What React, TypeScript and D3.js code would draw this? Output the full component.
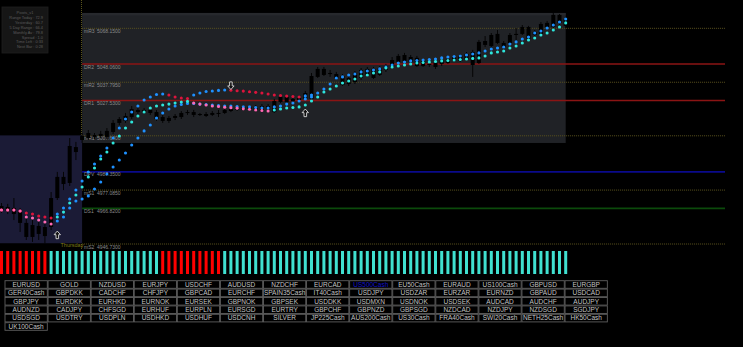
import React from "react";
import * as d3 from "d3";

const W = 743;
const H = 347;
const FONT = "Liberation Sans, Arial, sans-serif";

// ---- Price bars (one per M-bar, left to right) ----
const highs = [4969.8, 4969.3, 4972.6, 4967.0, 4961.4, 4960.2, 4959.1, 4959.1, 4976.0, 4987.3, 4987.3, 5006.4, 5004.2, 5009.2, 5010.9, 5009.2, 5010.4, 5012.0, 5016.5, 5018.2, 5020.5, 5024.4, 5023.9, 5023.3, 5023.3, 5022.2, 5019.4, 5018.8, 5019.9, 5021.6, 5022.2, 5022.2, 5020.5, 5021.0, 5021.6, 5022.2, 5023.3, 5023.9, 5024.4, 5025.0, 5025.0, 5025.0, 5025.5, 5025.5, 5028.4, 5030.6, 5030.6, 5029.5, 5030.1, 5032.9, 5043.0, 5046.4, 5046.4, 5044.7, 5043.6, 5042.4, 5041.3, 5044.1, 5045.8, 5046.4, 5046.4, 5046.9, 5048.1, 5052.0, 5053.7, 5054.3, 5053.1, 5052.6, 5050.9, 5049.2, 5049.8, 5051.5, 5052.0, 5053.1, 5053.7, 5054.8, 5056.0, 5061.6, 5063.8, 5065.5, 5067.2, 5061.0, 5065.5, 5068.3, 5070.0, 5069.5, 5067.2, 5071.7, 5072.3, 5076.8, 5076.2, 5074.5];
const opens = [4965.9, 4967.6, 4967.0, 4964.7, 4958.6, 4950.7, 4956.9, 4951.2, 4956.3, 4972.6, 4984.5, 4981.1, 5001.3, 5005.3, 5006.4, 5008.1, 5007.5, 5007.0, 5009.8, 5014.9, 5016.0, 5018.2, 5022.2, 5021.0, 5022.2, 5021.0, 5018.2, 5016.0, 5017.7, 5018.2, 5020.5, 5021.0, 5019.4, 5019.9, 5019.4, 5020.2, 5020.5, 5021.6, 5022.2, 5022.2, 5023.9, 5022.2, 5024.4, 5022.7, 5021.0, 5026.7, 5029.5, 5027.2, 5027.8, 5028.4, 5028.4, 5040.8, 5045.3, 5042.4, 5042.4, 5041.3, 5036.8, 5037.9, 5040.2, 5041.9, 5045.3, 5041.9, 5044.7, 5046.4, 5049.2, 5049.8, 5052.0, 5051.5, 5046.9, 5048.1, 5046.4, 5048.1, 5048.6, 5049.8, 5049.8, 5050.9, 5054.8, 5048.6, 5058.8, 5058.2, 5059.9, 5059.9, 5059.9, 5064.4, 5065.0, 5068.9, 5064.4, 5065.0, 5068.9, 5068.9, 5075.7, 5073.4];
const closes = [4968.1, 4965.3, 4963.6, 4958.6, 4950.7, 4957.4, 4952.4, 4956.3, 4972.6, 4984.5, 4980.5, 5001.9, 4998.5, 5007.5, 5009.2, 5007.0, 5008.7, 5010.4, 5014.9, 5017.1, 5018.8, 5022.7, 5021.0, 5022.2, 5020.5, 5017.1, 5016.0, 5017.7, 5018.8, 5020.5, 5021.0, 5019.4, 5019.9, 5018.8, 5020.5, 5020.5, 5022.2, 5022.7, 5023.3, 5023.9, 5022.7, 5023.9, 5021.6, 5024.4, 5027.2, 5029.5, 5026.7, 5028.4, 5028.9, 5031.7, 5041.3, 5045.3, 5041.9, 5043.0, 5040.2, 5036.2, 5040.2, 5043.0, 5044.7, 5045.3, 5040.2, 5045.8, 5046.9, 5050.3, 5052.6, 5053.1, 5049.2, 5046.9, 5049.8, 5047.5, 5048.6, 5050.3, 5050.9, 5052.0, 5052.6, 5053.7, 5047.5, 5060.5, 5061.0, 5064.4, 5065.0, 5057.6, 5064.4, 5065.0, 5068.9, 5062.1, 5066.1, 5070.6, 5071.2, 5075.7, 5071.2, 5069.5];
const lows = [4964.2, 4963.6, 4960.2, 4953.5, 4949.0, 4947.9, 4949.0, 4947.2, 4954.6, 4971.5, 4977.1, 4979.4, 4994.0, 5003.6, 5005.3, 5005.8, 5006.4, 5005.8, 5008.7, 5013.7, 5014.9, 5017.1, 5019.9, 5019.9, 5019.4, 5016.0, 5014.9, 5014.9, 5016.5, 5017.1, 5019.4, 5018.2, 5018.8, 5018.2, 5018.8, 5018.2, 5019.9, 5021.0, 5021.6, 5021.6, 5022.2, 5021.0, 5021.0, 5021.6, 5020.5, 5026.1, 5025.5, 5026.1, 5027.2, 5027.8, 5027.8, 5040.2, 5041.3, 5040.8, 5039.1, 5035.7, 5035.7, 5036.8, 5039.1, 5040.8, 5039.6, 5041.3, 5043.6, 5045.8, 5048.1, 5048.6, 5048.1, 5046.4, 5046.4, 5046.4, 5045.3, 5046.9, 5048.1, 5049.2, 5049.2, 5050.3, 5040.8, 5048.1, 5057.6, 5057.1, 5059.3, 5056.5, 5058.8, 5060.5, 5064.4, 5061.6, 5063.3, 5064.4, 5068.3, 5068.3, 5070.0, 5068.3];

// ---- Indicator lines (dots) ----
const fastLine = [4965.9, 4965.9, 4965.9, 4965.3, 4964.2, 4963.6, 4962.5, 4961.9, 4961.4, 4963.6, 4967.0, 4972.1, 4977.1, 4982.2, 4987.3, 4991.8, 4996.3, 5000.8, 5006.4, 5012.0, 5017.1, 5021.0, 5024.4, 5027.8, 5029.5, 5030.9, 5031.2, 5030.6, 5029.5, 5028.9, 5028.6, 5030.6, 5031.7, 5032.6, 5032.9, 5033.2, 5033.4, 5033.3, 5033.0, 5032.8, 5032.4, 5032.1, 5031.7, 5031.2, 5030.6, 5030.3, 5030.0, 5029.8, 5029.5, 5030.1, 5030.6, 5031.7, 5034.0, 5036.8, 5040.2, 5040.8, 5041.9, 5042.4, 5043.6, 5044.1, 5044.7, 5045.3, 5046.4, 5047.5, 5048.6, 5049.2, 5049.8, 5050.0, 5050.3, 5050.6, 5050.9, 5051.5, 5052.0, 5052.3, 5052.6, 5053.1, 5053.7, 5054.3, 5055.4, 5056.5, 5057.1, 5057.6, 5059.3, 5060.5, 5062.1, 5063.3, 5065.5, 5066.6, 5068.3, 5070.0, 5071.7, 5073.4];
const signalLine = [4965.9, 4965.9, 4965.9, 4965.3, 4961.9, 4961.4, 4960.2, 4959.1, 4958.0, 4961.9, 4964.7, 4969.8, 4974.3, 4978.8, 4984.5, 4989.5, 4994.6, 4998.5, 5003.6, 5007.5, 5012.0, 5015.4, 5018.8, 5021.0, 5023.3, 5024.4, 5025.0, 5025.5, 5026.1, 5026.7, 5027.0, 5026.1, 5025.5, 5025.0, 5024.4, 5024.1, 5023.7, 5023.5, 5023.2, 5022.8, 5022.6, 5022.2, 5021.9, 5021.6, 5022.2, 5022.7, 5023.3, 5023.6, 5023.9, 5025.0, 5027.2, 5029.5, 5032.3, 5034.0, 5035.7, 5037.4, 5038.5, 5039.6, 5041.3, 5041.9, 5043.0, 5043.6, 5045.8, 5046.4, 5046.9, 5047.5, 5048.1, 5048.6, 5048.9, 5049.2, 5049.5, 5049.8, 5050.0, 5050.3, 5050.6, 5050.9, 5051.2, 5051.5, 5052.6, 5054.3, 5054.8, 5055.4, 5057.1, 5058.2, 5059.9, 5061.6, 5062.7, 5064.4, 5065.5, 5067.2, 5068.9, 5071.2];
const slowLine: (number | null)[] = [null, null, null, null, null, null, null, null, null, 4959.7, 4961.9, 4967.0, 4970.9, 4972.1, 4973.8, 4977.7, 4981.6, 4986.1, 4990.1, 4994.0, 4998.0, 5002.5, 5006.4, 5010.4, 5013.7, 5017.7, 5020.5, 5022.7, 5024.4, 5025.3, 5025.8, 5025.8, 5025.5, 5025.3, 5025.0, 5024.7, 5024.4, 5024.4, 5024.1, 5023.9, 5023.9, 5023.6, 5023.3, 5023.3, 5023.9, 5024.4, 5025.5, 5026.1, 5027.2, 5028.4, 5029.5, null, null, null, null, null, null, null, null, null, null, null, null, null, null, null, null, null, null, null, null, null, null, null, null, null, null, null, null, null, null, null, null, null, null, null, null, null, null, null, null, null];

// ---- Trend histogram state per bar (1 up, -1 down) ----
const trendState = [-1, -1, -1, -1, -1, -1, -1, -1, 1, 1, 1, 1, 1, 1, 1, 1, 1, 1, 1, 1, 1, 1, 1, 1, 1, 1, -1, -1, -1, -1, -1, -1, -1, -1, -1, -1, 1, 1, 1, 1, 1, 1, 1, 1, 1, 1, 1, 1, 1, 1, 1, 1, 1, 1, 1, 1, 1, 1, 1, 1, 1, 1, 1, 1, 1, 1, 1, 1, 1, 1, 1, 1, 1, 1, 1, 1, 1, 1, 1, 1, 1, 1, 1, 1, 1, 1, 1, 1, 1, 1, 1, 1];

// ---- Pivot levels ----
const levelNames = ["mR3", "DR2", "mR2", "DR1", "mR1", "DPV", "mS1", "DS1", "mS2"];
const levelValues = [5068.15, 5048.06, 5037.795, 5027.53, 5007.64, 4987.35, 4977.085, 4966.82, 4946.73];
const levelKinds = ["mid", "R", "mid", "R", "mid", "P", "mid", "S", "mid"];

const yesterdayHigh = 5007.88;
const yesterdayLow = 4947.17;
const todayStartBar = 13;
const dayLabel = "Thursday";

const upArrowBars = [9, 49];
const upArrowPrices = [4954.0, 5022.7];
const downArrowBars = [37];
const downArrowPrices = [5033.7];

const infoLines = ["Pivots_v1", "Range Today : 72.9", "Yesterday : 60.7", "5 Day Range : 66.4", "Monthly Av : 79.8", "Spread : 1.0", "Time Left : 0:33", "Next Bar : 0:28"];

const symbolRow1 = ["EURUSD", "GOLD", "NZDUSD", "EURJPY", "USDCHF", "AUDUSD", "NZDCHF", "EURCAD", "US500Cash", "EU50Cash", "EURAUD", "US100Cash", "GBPUSD", "EURGBP"];
const symbolRow2 = ["GER40Cash", "GBPDKK", "CADCHF", "CHFJPY", "GBPCAD", "EURCHF", "SPAIN35Cash", "IT40Cash", "USDJPY", "USDZAR", "EURZAR", "EURNZD", "GBPAUD", "USDCAD"];
const symbolRow3 = ["GBPJPY", "EURDKK", "EURHKD", "EURNOK", "EURSEK", "GBPNOK", "GBPSEK", "USDDKK", "USDMXN", "USDNOK", "USDSEK", "AUDCAD", "AUDCHF", "AUDJPY"];
const symbolRow4 = ["AUDNZD", "CADJPY", "CHFSGD", "EURHUF", "EURPLN", "EURSGD", "EURTRY", "GBPCHF", "GBPNZD", "GBPSGD", "NZDCAD", "NZDJPY", "NZDSGD", "SGDJPY"];
const symbolRow5 = ["USDSGD", "USDTRY", "USDPLN", "USDHKD", "USDHUF", "USDCNH", "SILVER", "JP225Cash", "AUS200Cash", "US30Cash", "FRA40Cash", "SWI20Cash", "NETH25Cash", "HK50Cash"];
const symbolRow6 = ["UK100Cash"];
const activeSymbol = "US500Cash";

const BLUE = "#1e90ff";
const RED = "#dc143c";
const CYAN = "#2ee6dc";
const PINK = "#ff69b4";

export default function App() {
  const n = highs.length;
  const x = d3.scaleLinear().domain([0, n - 1]).range([1.5, 565.7]);
  const y = d3.scaleLinear().domain([4946.73, 5048.06]).range([244, 64]);

  const todayIdx = d3.range(todayStartBar, n);
  const todayHigh = d3.max(todayIdx, (i) => highs[i]) as number;
  const todayLow = d3.min(todayIdx, (i) => lows[i]) as number;

  const sepX = x(todayStartBar);
  const lineEnd = 725;

  const levelStyle = (k: string) => {
    if (k === "R") return { stroke: "#8b1414", width: 1.5, dash: undefined };
    if (k === "P") return { stroke: "#0a0a8c", width: 1.8, dash: undefined };
    if (k === "S") return { stroke: "#0b4a0b", width: 1.7, dash: undefined };
    return { stroke: "#5a521e", width: 1, dash: "1,1" };
  };

  const rows = [symbolRow1, symbolRow2, symbolRow3, symbolRow4, symbolRow5, symbolRow6];
  const colX = d3.scaleLinear().domain([0, 1]).range([5, 48.08]);
  const rowY = d3.scaleLinear().domain([0, 1]).range([280.7, 289.1]);
  const btnW = 42.3;
  const btnH = 7.6;

  const upPath = "M0,0 L3.2,3.6 L1.3,3.6 L1.3,7.6 L-1.3,7.6 L-1.3,3.6 L-3.2,3.6 Z";
  const downPath = "M0,0 L3.2,-3.6 L1.3,-3.6 L1.3,-7.6 L-1.3,-7.6 L-1.3,-3.6 L-3.2,-3.6 Z";

  const dotColor = (arr: number[], i: number, up: string, dn: string) =>
    i > 0 && arr[i] > arr[i - 1] ? up : dn;

  const R = 1.55;

  return (
    <svg
      width={W}
      height={H}
      viewBox={`0 0 ${W} ${H}`}
      style={{ position: "fixed", left: 0, top: 0, display: "block", background: "#000" }}
    >
      <rect x={0} y={0} width={W} height={H} fill="#000" />

      {/* day separator */}
      <line x1={sepX - 0.6} x2={sepX - 0.6} y1={0} y2={250} stroke="#5a541c" strokeWidth={1} strokeDasharray="1,1" />

      {/* yesterday panel */}
      <rect x={0} y={y(yesterdayHigh)} width={sepX} height={y(yesterdayLow) - y(yesterdayHigh)} fill="#1b1b36" />
      {/* today panel */}
      <rect x={sepX} y={y(todayHigh)} width={x(n - 1) - sepX} height={y(todayLow) - y(todayHigh)} fill="#202226" />
      <rect x={sepX} y={y(todayHigh)} width={x(n - 1) - sepX} height={2.5} fill="#27292d" />

      {/* info box */}
      <rect x={2} y={7} width={46} height={46} fill="#161616" stroke="#1f1f1f" strokeWidth={0.8} />
      {infoLines.map((t, i) => (
        <text key={t} x={i === 0 ? 25 : 43} y={14 + i * 4.9} fontSize={3.9} fill="#5c5c5c" fontFamily={FONT} textAnchor={i === 0 ? "middle" : "end"}>
          {t}
        </text>
      ))}

      {/* pivot lines */}
      {levelValues.map((v, i) => {
        const s = levelStyle(levelKinds[i]);
        return (
          <line key={levelNames[i]} x1={sepX} x2={lineEnd} y1={y(v)} y2={y(v)} stroke={s.stroke} strokeWidth={s.width} strokeDasharray={s.dash} />
        );
      })}

      {/* day label */}
      <text x={60.5} y={246.8} fontSize={5.5} fill="#7f7a14" fontFamily={FONT}>{dayLabel}</text>

      {/* level labels */}
      {levelValues.map((v, i) => (
        <g key={"lbl" + i} fontFamily={FONT} fontSize={5} fill="#8a8a8a">
          <text x={84} y={y(v) + 4.6}>{levelNames[i]}</text>
          <text x={97} y={y(v) + 4.6}>{v.toFixed(4)}</text>
        </g>
      ))}

      {/* candles */}
      {highs.map((h, i) => {
        const top = Math.max(opens[i], closes[i]);
        const bot = Math.min(opens[i], closes[i]);
        const by = y(top);
        const bh = Math.max(1, y(bot) - y(top));
        return (
          <g key={"c" + i}>
            <line x1={x(i)} x2={x(i)} y1={y(h)} y2={y(lows[i])} stroke="#050505" strokeWidth={1} />
            <rect x={x(i) - 2} y={by} width={4} height={bh} fill="#000" />
          </g>
        );
      })}

      {/* indicator dots */}
      {slowLine.map((v, i) =>
        v == null ? null : <circle key={"s" + i} cx={x(i)} cy={y(v)} r={R} fill={BLUE} />
      )}
      {fastLine.map((v, i) => (
        <circle key={"f" + i} cx={x(i)} cy={y(v)} r={R} fill={dotColor(fastLine, i, BLUE, RED)} />
      ))}
      {signalLine.map((v, i) => (
        <circle key={"g" + i} cx={x(i)} cy={y(v)} r={R} fill={dotColor(signalLine, i, CYAN, PINK)} />
      ))}

      {/* arrows */}
      {upArrowBars.map((b, i) => (
        <path key={"u" + i} d={upPath} transform={`translate(${x(b)},${y(upArrowPrices[i])})`} fill="#111" stroke="#d9d9d9" strokeWidth={0.9} />
      ))}
      {downArrowBars.map((b, i) => (
        <path key={"d" + i} d={downPath} transform={`translate(${x(b)},${y(downArrowPrices[i])})`} fill="#111" stroke="#d9d9d9" strokeWidth={0.9} />
      ))}

      {/* trend histogram */}
      {trendState.map((s, i) => (
        <rect key={"h" + i} x={x(i) - 1.5} y={251} width={3} height={23} fill={s > 0 ? "#40e0d0" : "#ff0000"} />
      ))}

      {/* symbol buttons */}
      {rows.map((row, r) =>
        row.map((sym, c) => (
          <g key={sym}>
            <rect x={colX(c)} y={rowY(r)} width={btnW} height={btnH} fill="#000" stroke="#5e5e5e" strokeWidth={0.9} />
            <text
              x={colX(c) + btnW / 2}
              y={rowY(r) + btnH / 2 + 2.3}
              fontSize={6.5}
              fontFamily={FONT}
              textAnchor="middle"
              fill={sym === activeSymbol ? "#1010c8" : "#c4c4c4"}
            >
              {sym}
            </text>
          </g>
        ))
      )}
    </svg>
  );
}
